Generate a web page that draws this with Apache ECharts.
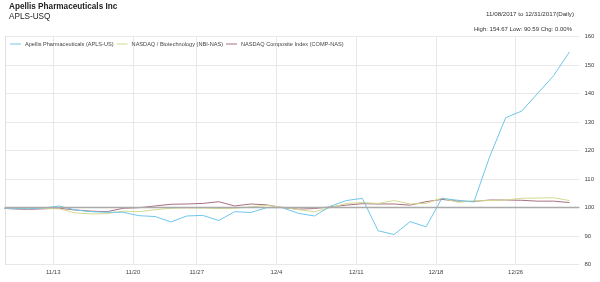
<!DOCTYPE html>
<html><head><meta charset="utf-8">
<script src="https://cdn.jsdelivr.net/npm/echarts@6/dist/echarts.min.js"></script>
<style>html,body{margin:0;padding:0;background:#fff}#c{width:600px;height:282px}</style>
</head><body><div id="c"></div>
<script>
// trading days (first entry is the base day before the range, clipped at the left edge)
const dates = ['11/7','11/8','11/9','11/10','11/13','11/14','11/15','11/16','11/17','11/20','11/21','11/22','11/24','11/27','11/28','11/29','11/30','12/1','12/4','12/5','12/6','12/7','12/8','12/11','12/12','12/13','12/14','12/15','12/18','12/19','12/20','12/21','12/22','12/26','12/27','12/28','12/29'];
const apls = [100,99.8,99.6,99.9,100.6,99.2,98.6,98.4,98.4,97.2,96.9,95.0,97.1,97.3,95.5,98.6,98.3,100.0,100.0,98.0,97.1,100.5,102.5,103.3,91.9,90.59,95.1,93.3,103.3,102.6,102.0,118.0,131.6,133.9,140.1,146.3,154.67];
const nbi  = [100,99.8,99.6,99.8,99.6,98.2,97.8,97.9,98.8,98.6,99.3,99.8,99.9,99.9,99.7,99.8,100.3,100.8,100.2,99.3,98.6,100.0,101.5,101.8,101.5,102.5,101.3,101.5,103.4,101.9,102.4,102.5,102.7,103.3,103.4,103.5,102.5];
const comp = [100,99.6,99.4,99.6,99.8,99.2,98.8,98.6,99.8,100.0,100.6,101.2,101.3,101.5,102.1,100.6,101.3,101.0,100.0,99.5,99.7,100.3,100.9,101.4,101.3,101.3,100.9,102.1,102.9,102.3,102.2,102.7,102.7,102.6,102.3,102.3,101.8];
const seriesNames = ['Apellis Pharmaceuticals (APLS-US)','NASDAQ / Biotechnology (NBI-NAS)','NASDAQ Composite Index (COMP-NAS)'];
const tickLabels = ['11/13','11/20','11/27','12/4','12/11','12/18','12/26'];
const yTicks = [80,90,100,110,120,130,140,150,160];

const FONT = 'Liberation Sans, Arial, sans-serif';
const OFFSET = 0.38; // points sit a bit after the day's gridline
const dayPos = d => dates.indexOf(d) - 1; // 11/8 = 0
const tickPos = tickLabels.map(dayPos);
const toPts = arr => arr.map((v, i) => [i - 1 + OFFSET, v]);

const chart = echarts.init(document.getElementById('c'), null, {renderer: 'canvas'});
const lineSeries = (name, data, color, extra) => Object.assign({
  name, type: 'line', data: toPts(data), showSymbol: false, symbol: 'none',
  lineStyle: {color, width: 1}, itemStyle: {color}, clip: true, animation: false
}, extra || {});

chart.setOption({
  animation: false,
  textStyle: {fontFamily: FONT},
  title: [
    {text: 'Apellis Pharmaceuticals Inc', left: 4, top: -2,
     textStyle: {fontSize: 8.2, fontWeight: 'bold', color: '#222', fontFamily: FONT}},
    {text: 'APLS-USQ', left: 4, top: 8,
     textStyle: {fontSize: 8.2, fontWeight: 'normal', color: '#222', fontFamily: FONT}},
    {text: '11/08/2017 to 12/31/2017(Daily)', right: 21, top: 6,
     textStyle: {fontSize: 6.2, fontWeight: 'normal', color: '#333', fontFamily: FONT}},
    {text: 'High: 154.67 Low: 90.59 Chg: 0.00%', right: 23, top: 21,
     textStyle: {fontSize: 6, fontWeight: 'normal', color: '#333', fontFamily: FONT}}
  ],
  legend: {
    left: 5, top: 36, icon: 'rect', itemWidth: 11, itemHeight: 1, itemGap: 3,
    textStyle: {fontSize: 5.6, color: '#444', fontFamily: FONT, padding: [0, 0, 0, -1]},
    data: seriesNames
  },
  grid: {left: 5.4, right: 20.6, top: 36.7, bottom: 17.3, containLabel: false},
  xAxis: {
    type: 'value', min: 0, max: 36,
    axisLine: {show: false}, axisTick: {show: false, customValues: tickPos},
    axisLabel: {customValues: tickPos, fontSize: 6, color: '#444', margin: 5,
      formatter: v => tickLabels[tickPos.indexOf(Math.round(v))] || ''},
    splitLine: {show: true, lineStyle: {color: '#e8e8e8', width: 1}}
  },
  yAxis: {
    type: 'value', position: 'right', min: yTicks[0], max: yTicks[yTicks.length - 1], interval: 10,
    axisLine: {show: true, lineStyle: {color: '#e0e0e0'}},
    axisTick: {show: false},
    axisLabel: {fontSize: 6, color: '#444', margin: 5},
    splitLine: {show: true, lineStyle: {color: '#e8e8e8', width: 1}}
  },
  series: [
    lineSeries(seriesNames[0], apls, '#6ec6ea', {z: 4}),
    lineSeries(seriesNames[1], nbi, '#d3da8e', {z: 3}),
    lineSeries(seriesNames[2], comp, '#a8707f', {z: 2,
      markLine: {silent: true, symbol: 'none', label: {show: false},
        lineStyle: {color: '#aaaaaa', width: 1.3, type: 'solid'},
        data: [{yAxis: 100}]}})
  ]
});
</script></body></html>
